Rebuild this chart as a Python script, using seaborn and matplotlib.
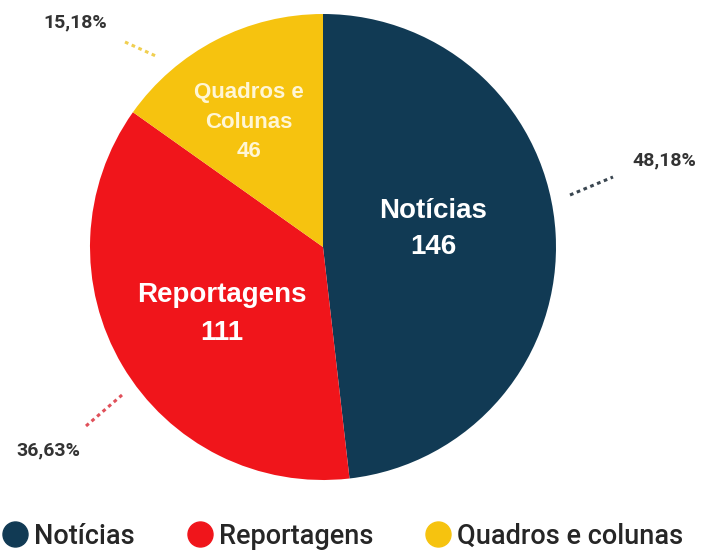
import matplotlib.pyplot as plt
import seaborn as sns
from matplotlib.lines import Line2D

sns.set_theme(style="white")
plt.rcParams['font.family'] = ['Roboto', 'DejaVu Sans']

# data
categorias = ["Notícias", "Reportagens", "Quadros e colunas"]
rotulos_dentro = ["Notícias", "Reportagens", "Quadros e\nColunas"]
valores = [146, 111, 46]
percentuais = ["48,18%", "36,63%", "15,18%"]
cores = ["#113A54", "#F0151B", "#F6C30F"]

W, H = 702, 554
fig = plt.figure(figsize=(W / 100, H / 100), dpi=100)
ax = fig.add_axes([0, 0, 1, 1])

cx, cy, r = 323, H - 247, 233
ax.pie(valores, colors=cores, startangle=90, counterclock=False,
       center=(cx, cy), radius=r, wedgeprops=dict(linewidth=0))
ax.set_xlim(0, W)
ax.set_ylim(0, H)
ax.set_aspect('equal')
ax.axis('off')

# labels inside the slices
pos_dentro = [(433, 229), (222, 314), (249, 122)]
tam_dentro = [20, 20, 16]
cor_texto = ["white", "white", "#FFF6D5"]
for lab, v, (x, y), fs, c in zip(rotulos_dentro, valores, pos_dentro, tam_dentro, cor_texto):
    ax.text(x, H - y, f"{lab}\n{v}", ha="center", va="center", color=c,
            fontsize=fs, fontweight="bold", linespacing=1.55,
            family=['Liberation Sans', 'DejaVu Sans'])

# percentage labels with dotted leader lines
pos_pct = [(664, 160), (48, 450), (75, 22)]
linhas = [((570, 195), (613, 177)), ((86, 426), (122, 395)), ((125, 42), (158, 57))]
cor_linha = ["#3A4650", "#E0505A", "#F0CF50"]
for p, (x, y), ((x1, y1), (x2, y2)), lc in zip(percentuais, pos_pct, linhas, cor_linha):
    ax.text(x, H - y, p, ha="center", va="center", color="#333333",
            fontsize=14, fontweight="bold")
    ax.plot([x1, x2], [H - y1, H - y2], linestyle=(0, (1.2, 1.2)), color=lc, linewidth=2.2)

# legend
handles = [Line2D([], [], marker="o", linestyle="none", markersize=18,
                  markerfacecolor=c, markeredgecolor=c) for c in cores]
fig.legend(handles, categorias, loc="lower left", bbox_to_anchor=(0.0064, 0.008),
           ncol=3, frameon=False, handletextpad=0.3, borderpad=0, borderaxespad=0,
           columnspacing=2.0, handlelength=0.8, prop={'weight': 'medium', 'size': 19.5})

fig.savefig("out.png", dpi=100)
